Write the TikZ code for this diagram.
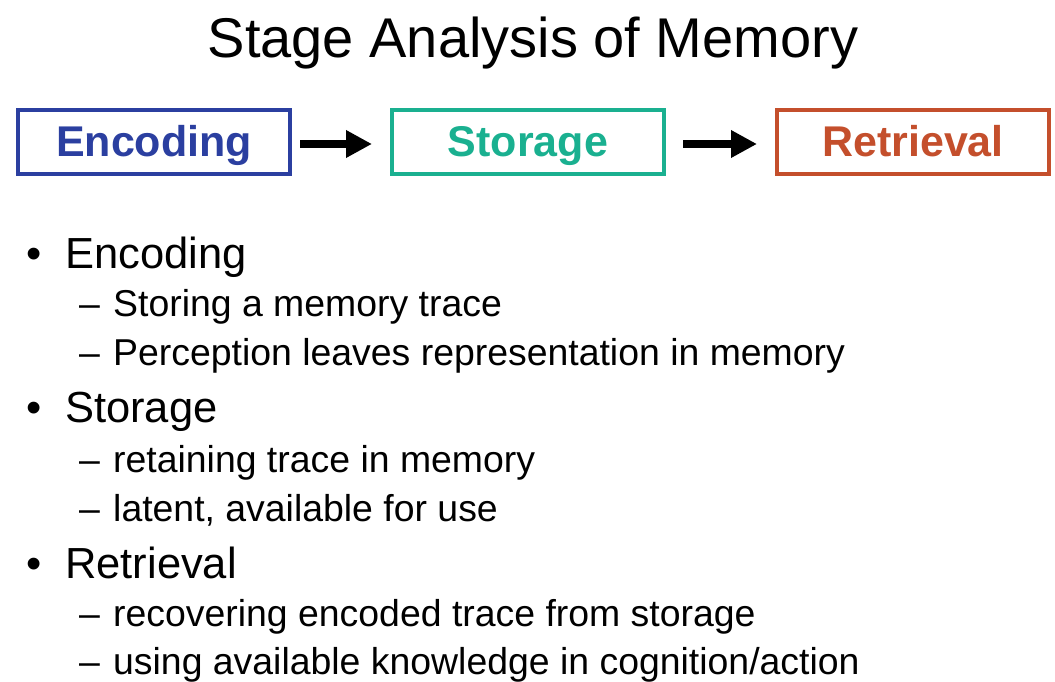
\documentclass[tikz,border=0pt]{standalone}
\usepackage{fontspec}
\setmainfont{Liberation Sans}
\usetikzlibrary{arrows.meta}
\definecolor{encblue}{HTML}{2B3FA0}
\definecolor{stoteal}{HTML}{1AB090}
\definecolor{retred}{HTML}{C44F2C}
\tikzset{
  x=1pt, y=1pt,
  stagebox/.style={draw, line width=4pt, minimum width=272pt, minimum height=64pt, inner sep=0pt,
    text height=30pt, text depth=0pt,
    font=\fontsize{43}{47}\selectfont\bfseries},
  flowarrow/.style={line width=8pt, -{Triangle[length=26pt,width=26pt]}},
  txt/.style={anchor=base west, inner sep=0pt},
  mainitem/.style={txt, font=\fontsize{43.5}{47}\selectfont},
  subitem/.style={txt, font=\fontsize{37.4}{41}\selectfont},
}
\begin{document}
\begin{tikzpicture}
\useasboundingbox (0,0) rectangle (1055,-682);
\node[txt, anchor=base, font=\fontsize{56}{60}\selectfont] (title) at (533,-58) {Stage Analysis of Memory};

\node[stagebox, draw=encblue, text=encblue] (enc) at (154,-142) {Encoding};
\node[stagebox, draw=stoteal, text=stoteal] (sto) at (528,-142) {Storage};
\node[stagebox, draw=retred, text=retred] (ret) at (913,-142) {Retrieval};
\draw[flowarrow] ([xshift=8pt,yshift=-2pt]enc.east) -- ([xshift=-18pt,yshift=-2pt]sto.west);
\draw[flowarrow] ([xshift=17pt,yshift=-2pt]sto.east) -- ([xshift=-18pt,yshift=-2pt]ret.west);

\node[mainitem] (b1) at (26,-268) {•};
\node[mainitem] (m1) at (65,-268) {Encoding};
\node[subitem] (d11) at (79,-316) {–};
\node[subitem] (s11) at (113,-316) {Storing a memory trace};
\node[subitem] (d12) at (79,-365) {–};
\node[subitem] (s12) at (113,-365) {Perception leaves representation in memory};

\node[mainitem] (b2) at (26,-422) {•};
\node[mainitem] (m2) at (65,-422) {Storage};
\node[subitem] (d21) at (79,-472) {–};
\node[subitem] (s21) at (113,-472) {retaining trace in memory};
\node[subitem] (d22) at (79,-521) {–};
\node[subitem] (s22) at (113,-521) {latent, available for use};

\node[mainitem] (b3) at (26,-578) {•};
\node[mainitem] (m3) at (65,-578) {Retrieval};
\node[subitem] (d31) at (79,-626) {–};
\node[subitem] (s31) at (113,-626) {recovering encoded trace from storage};
\node[subitem] (d32) at (79,-674) {–};
\node[subitem] (s32) at (113,-674) {using available knowledge in cognition/action};
\end{tikzpicture}
\end{document}
